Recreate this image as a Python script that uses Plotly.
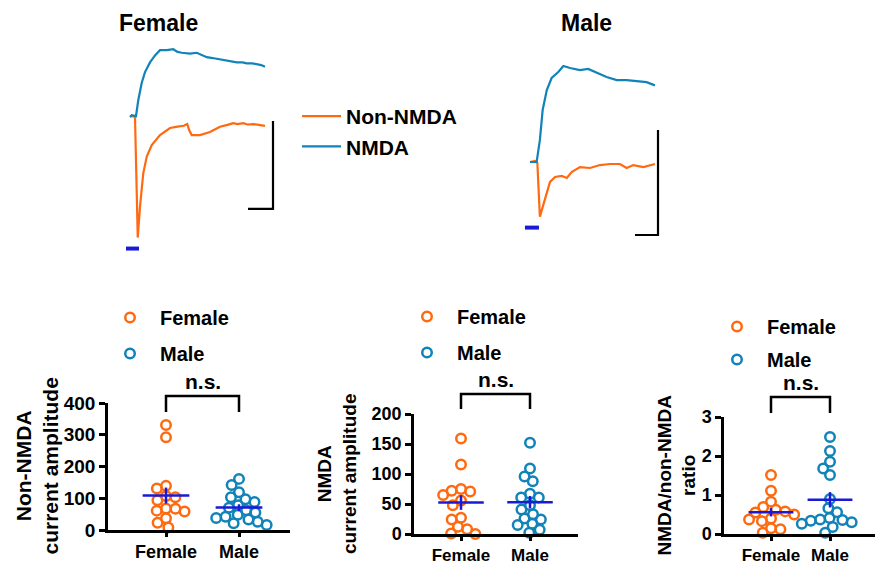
import numpy as np
import plotly.graph_objects as go

W, H = 875, 564

# ---------------- data ----------------
# example traces: time (ms) and current (pA)
female_t_nonnmda = [0, 10, 20, 26, 31, 40, 53, 67, 87, 120, 160, 190, 215, 229, 237, 247, 280, 320, 360, 390, 413, 430, 453, 470, 493, 515, 540]
female_nonnmda = [1, 1, 0, -70, -137, -102, -64, -45, -32, -20.5, -12.5, -11, -10, -8, -15, -20.5, -20.5, -17, -11, -9, -7, -8, -7, -8.5, -8, -9, -10]
female_t_nmda = [0, 7, 24, 33, 47, 60, 80, 100, 120, 147, 173, 190, 207, 225, 240, 267, 290, 307, 330, 347, 370, 387, 410, 427, 450, 467, 490, 507, 525, 540]
female_nmda = [0, 2, 1, 19, 39, 51, 62, 70, 76, 76, 77, 74, 73, 72, 72, 73, 70, 68, 67, 66, 65, 64, 63, 62, 62, 61, 61, 60, 59, 57]
male_t_nonnmda = [0, 22, 32, 43, 55, 73, 87, 109, 138, 160, 181, 217, 261, 304, 348, 391, 420, 449, 493, 543]
male_nonnmda = [0, 1, -1, -52, -43, -29.5, -19, -14.3, -13.3, -15.2, -9.5, -4.8, -5.7, -2.9, -1.9, -1.9, -5.7, -2.9, -4.8, -1.9]
male_t_nmda = [0, 29, 43, 55, 73, 94, 123, 145, 174, 217, 253, 290, 333, 377, 420, 464, 507, 543]
male_nmda = [0, 0, 21, 49.5, 68.6, 80, 85.7, 91.4, 89.5, 87.6, 88.6, 84.8, 81, 78, 78, 77, 76, 73]
female_stim_ms = [-16, 36]
male_stim_ms = [-22, 39]
scale_bar_ms = 100
scale_bar_pA = 100

groups = ["Female", "Male"]
nonnmda_female = [331, 292, 139, 131, 107, 103, 94, 68, 67, 61, 58, 37, 23, 8]
nonnmda_male = [161, 142, 119, 103, 97, 88, 78, 70, 62, 55, 48, 42, 38, 33, 26, 21, 16]
nmda_female = [159, 116, 75, 72, 71, 65, 56, 48, 27, 24, 12, 8, 1, 0]
nmda_male = [152, 109, 96, 88, 67, 61, 61, 48, 41, 33, 26, 24, 17, 15, 7, 2]
ratio_female = [1.51, 1.11, 0.83, 0.69, 0.62, 0.58, 0.55, 0.50, 0.40, 0.37, 0.33, 0.15, 0.12, 0.03]
ratio_male = [2.49, 2.13, 1.85, 1.68, 1.51, 0.90, 0.66, 0.56, 0.41, 0.37, 0.36, 0.34, 0.30, 0.26, 0.18, 0.03]

# ---------------- styles ----------------
ORANGE = "#FF6A10"
BLUE = "#1183B8"
MEANBLUE = "#1A1AD6"
FONT = "Arial, Liberation Sans, sans-serif"


def fnt(size, color="black"):
    return dict(family=FONT, size=size, color=color, weight="bold")


def xdom(a, b):
    return [a / W, b / W]


def ydom(top, bot):
    return [1 - bot / H, 1 - top / H]


fig = go.Figure()
layout = dict(width=W, height=H, margin=dict(l=0, r=0, t=0, b=0, pad=0, autoexpand=False),
              autosize=False, plot_bgcolor="white", paper_bgcolor="white", showlegend=True)
shapes, annotations = [], []

# ---------------- top example traces ----------------
top_panels = [
    dict(ax="5", box=(100, 300, 0, 262), sx=0.25, sy=0.88, org=(130, 117),
         t1=female_t_nonnmda, y1=female_nonnmda, t2=female_t_nmda, y2=female_nmda,
         stim=female_stim_ms, corner=(572, -104.5), legend=True, title="Female", title_x=158),
    dict(ax="6", box=(500, 700, 0, 262), sx=0.23, sy=1.05, org=(530, 162),
         t1=male_t_nonnmda, y1=male_nonnmda, t2=male_t_nmda, y2=male_nmda,
         stim=male_stim_ms, corner=(556.5, -69.5), legend=False, title="Male", title_x=586),
]
for p in top_panels:
    x0, x1, y0, y1 = p["box"]
    ox, oy = p["org"]
    xr = [(x0 - ox) / p["sx"], (x1 - ox) / p["sx"]]
    yr = [(oy - y1) / p["sy"], (oy - y0) / p["sy"]]
    xa, ya = "x" + p["ax"], "y" + p["ax"]
    layout["xaxis" + p["ax"]] = dict(domain=xdom(x0, x1), range=xr, visible=False, anchor=ya,
                                     automargin=False)
    layout["yaxis" + p["ax"]] = dict(domain=ydom(y0, y1), range=yr, visible=False, anchor=xa,
                                     automargin=False)
    fig.add_trace(go.Scatter(x=p["t1"], y=p["y1"], mode="lines", line=dict(color=ORANGE, width=2.2),
                             name="Non-NMDA", showlegend=p["legend"], legend="legend",
                             xaxis=xa, yaxis=ya))
    fig.add_trace(go.Scatter(x=p["t2"], y=p["y2"], mode="lines", line=dict(color=BLUE, width=2.2),
                             name="NMDA", showlegend=p["legend"], legend="legend",
                             xaxis=xa, yaxis=ya))
    stim_y = min(p["y1"]) - 11 / p["sy"]
    fig.add_trace(go.Scatter(x=p["stim"], y=[stim_y, stim_y], mode="lines",
                             line=dict(color=MEANBLUE, width=4), showlegend=False,
                             hoverinfo="skip", xaxis=xa, yaxis=ya))
    cx, cy = p["corner"]
    fig.add_trace(go.Scatter(x=[cx - scale_bar_ms, cx, cx], y=[cy, cy, cy + scale_bar_pA],
                             mode="lines", line=dict(color="black", width=2.2),
                             showlegend=False, hoverinfo="skip", xaxis=xa, yaxis=ya))
    annotations.append(dict(text=p["title"], x=p["title_x"] / W, y=1 - 23 / H, xref="paper",
                            yref="paper", showarrow=False, font=fnt(23), xanchor="center",
                            yanchor="middle"))

layout["legend"] = dict(x=297 / W, y=1 - 96 / H, xanchor="left", yanchor="top",
                        font=fnt(21), bgcolor="rgba(0,0,0,0)", traceorder="normal",
                        itemwidth=39)


# ---------------- bottom scatter panels ----------------
def swarm(vals, ppu, d=9.5):
    vals = np.asarray(vals, dtype=float)
    order = np.argsort(-vals, kind="stable")
    xs = np.zeros(len(vals))
    placed = []
    for i in order:
        y = vals[i] * ppu
        cands = [0.0]
        for xp, yp in placed:
            dy = abs(y - yp)
            if dy < d:
                dx = np.sqrt(d * d - dy * dy)
                cands += [xp + dx, xp - dx]
        cands.sort(key=lambda c: (abs(c), c))
        for c in cands:
            if all((c - xp) ** 2 + (y - yp) ** 2 >= d * d - 1e-6 for xp, yp in placed):
                xs[i] = c
                break
        placed.append((xs[i], y))
    return xs


panels = [
    dict(ax="", ax_x=108, x_right=290, cat=(166, 239), top=403, bot=530, ymax=400, dtick=100,
         f=nonnmda_female, m=nonnmda_male, ytitle="Non-NMDA<br>current amplitude", yt_x=36, yt_size=21,
         tick_size=19, xt_size=18, leg="legend2", leg_xy=(100, 298), gap=7, br=(396, 412), mw=0.32),
    dict(ax="2", ax_x=414, x_right=578, cat=(461, 530), top=414, bot=534, ymax=200, dtick=50,
         f=nmda_female, m=nmda_male, ytitle="NMDA<br>current amplitude", yt_x=337, yt_size=19,
         tick_size=18, xt_size=17, leg="legend3", leg_xy=(397, 297), gap=7, br=(394, 409), mw=0.33),
    dict(ax="3", ax_x=724, x_right=875, cat=(771, 830), top=417, bot=534, ymax=3, dtick=1,
         f=ratio_female, m=ratio_male, ytitle="NMDA/non-NMDA<br>ratio", yt_x=676, yt_size=19,
         tick_size=18, xt_size=17, leg="legend4", leg_xy=(707, 307), gap=4, br=(397, 413), mw=0.38),
]

for p in panels:
    c0, c1 = p["cat"]
    sxp = c1 - c0
    syp = (p["bot"] - p["top"]) / p["ymax"]
    xr = [(p["ax_x"] - c0) / sxp, (p["x_right"] - c0) / sxp]
    xa, ya = "x" + p["ax"], "y" + p["ax"]
    axis_common = dict(showline=True, linecolor="black", linewidth=2.5, ticks="outside",
                       tickwidth=2.5, tickcolor="black", showgrid=False, zeroline=False,
                       automargin=False)
    layout["xaxis" + p["ax"]] = dict(domain=xdom(p["ax_x"], p["x_right"]), range=xr, anchor=ya,
                                     tickvals=[0, 1], ticktext=groups, ticklen=4,
                                     tickfont=fnt(p["xt_size"]), **axis_common)
    layout["yaxis" + p["ax"]] = dict(domain=ydom(p["top"], p["bot"]), range=[0, p["ymax"]],
                                     anchor=xa, dtick=p["dtick"], tick0=0, ticklen=6,
                                     tickfont=fnt(p["tick_size"]), **axis_common)
    for gi, (vals, col, nm) in enumerate([(p["f"], ORANGE, "Female"), (p["m"], BLUE, "Male")]):
        jit = swarm(vals, syp) / sxp
        fig.add_trace(go.Scatter(x=gi + jit, y=vals, mode="markers", name=nm,
                                 marker=dict(symbol="circle-open", size=9.5, color=col,
                                             line=dict(width=2.5, color=col)),
                                 cliponaxis=False, legend=p["leg"], legendgroup=p["leg"] + nm,
                                 xaxis=xa, yaxis=ya))
    for gi, vals in enumerate([p["f"], p["m"]]):
        v = np.asarray(vals, dtype=float)
        mean = v.mean()
        sem = v.std(ddof=1) / np.sqrt(len(v))
        fig.add_trace(go.Scatter(x=[gi - p["mw"], gi + p["mw"]], y=[mean, mean], mode="lines",
                                 line=dict(color=MEANBLUE, width=2.5), showlegend=False,
                                 hoverinfo="skip", xaxis=xa, yaxis=ya))
        fig.add_trace(go.Scatter(x=[gi, gi], y=[mean - sem, mean + sem], mode="lines",
                                 line=dict(color=MEANBLUE, width=2.5), showlegend=False,
                                 hoverinfo="skip", xaxis=xa, yaxis=ya))
    lx, ly = p["leg_xy"]
    layout[p["leg"]] = dict(x=lx / W, y=1 - ly / H, xanchor="left", yanchor="top",
                            font=fnt(20), bgcolor="rgba(0,0,0,0)", tracegroupgap=p["gap"],
                            itemwidth=50)
    annotations.append(dict(text=p["ytitle"], x=p["yt_x"] / W, y=1 - (p["top"] + p["bot"]) / 2 / H,
                            xref="paper", yref="paper", textangle=-90, showarrow=False,
                            font=fnt(p["yt_size"]), xanchor="center", yanchor="middle"))
    btop, bbot = p["br"]
    bx0, bx1 = c0 / W, c1 / W
    shapes.append(dict(type="path", xref="paper", yref="paper",
                       path=f"M {bx0},{1 - bbot / H} L {bx0},{1 - btop / H} L {bx1},{1 - btop / H} L {bx1},{1 - bbot / H}",
                       line=dict(color="black", width=2.5)))
    annotations.append(dict(text="n.s.", x=(bx0 + bx1) / 2, y=1 - (btop - 1) / H, xref="paper",
                            yref="paper", showarrow=False, font=fnt(21), xanchor="center",
                            yanchor="bottom"))

layout["shapes"] = shapes
layout["annotations"] = annotations
fig.update_layout(**layout)
fig.write_html("out.html", config={"displayModeBar": False},
               post_script="document.body.style.margin='0';document.body.style.overflow='hidden';")
